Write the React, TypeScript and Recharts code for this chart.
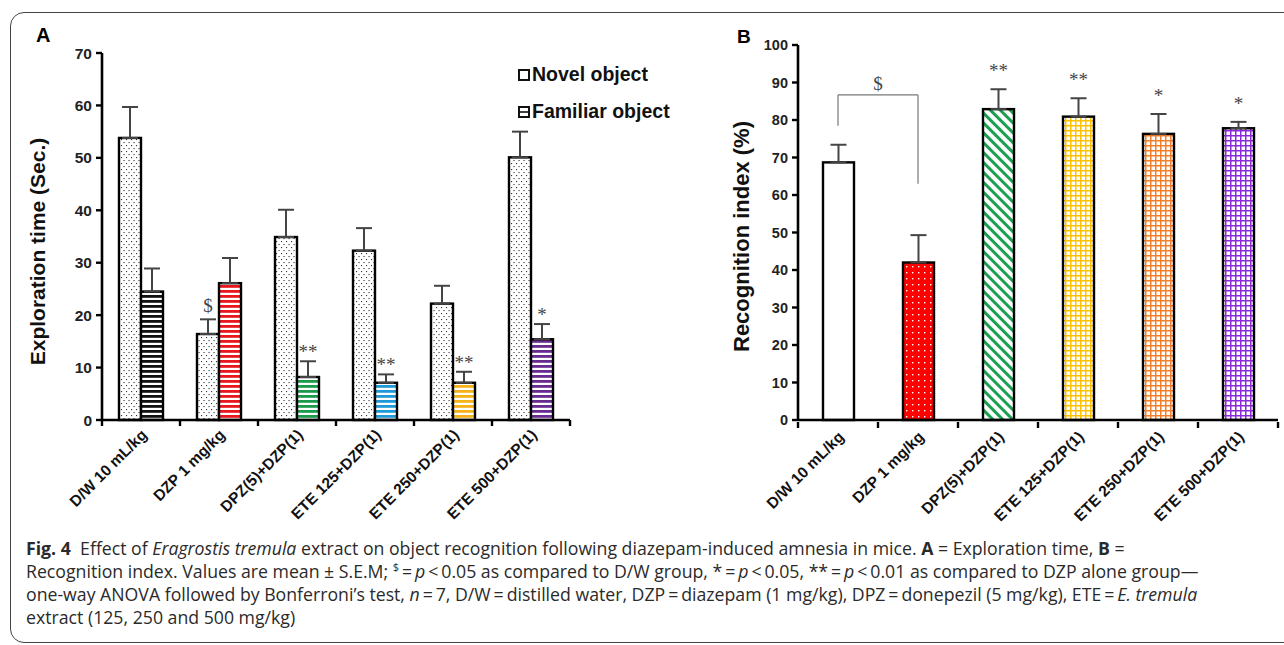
import React from "react";
import { Bar, BarChart, ErrorBar, Legend, ReferenceLine, XAxis, YAxis } from "recharts";

const groups = [
  "D/W 10 mL/kg",
  "DZP 1 mg/kg",
  "DPZ(5)+DZP(1)",
  "ETE 125+DZP(1)",
  "ETE 250+DZP(1)",
  "ETE 500+DZP(1)",
];

// panel A: exploration time (sec), mean and S.E.M
const novelMean = [53.8, 16.4, 34.9, 32.3, 22.2, 50.1];
const novelSem = [5.9, 2.8, 5.2, 4.3, 3.4, 4.9];
const familiarMean = [24.5, 26.1, 8.2, 7.1, 7.1, 15.4];
const familiarSem = [4.4, 4.8, 3.0, 1.6, 2.1, 2.9];
const novelSig = ["", "$", "", "", "", ""];
const familiarSig = ["", "", "**", "**", "**", "*"];
const ticksA = [0, 10, 20, 30, 40, 50, 60, 70];

// panel B: recognition index (%)
const riMean = [68.7, 42.0, 82.9, 80.9, 76.3, 77.8];
const riSem = [4.7, 7.3, 5.3, 4.9, 5.3, 1.7];
const riSig = ["", "", "**", "**", "*", "*"];
const ticksB = [0, 10, 20, 30, 40, 50, 60, 70, 80, 90, 100];
// D/W vs DZP bracket (y values)
const bracketStart = 78.5;
const bracketTop = 86.7;
const bracketEnd = 63;

const legendItems = ["Novel object", "Familiar object"];

const stripeColors = ["#111111", "#e8161e", "#1a9a4a", "#1f9ad6", "#f6b21a", "#6a2b90"];
const novelFills = groups.map(() => "url(#dotsA)");
const familiarFills = stripeColors.map((_, i) => `url(#stripe${i})`);
const riFills = ["#ffffff", "url(#redDots)", "url(#greenDiag)", "url(#gridYellow)", "url(#gridOrange)", "url(#gridPurple)"];

const dataA = groups.map((g, i) => ({
  group: g,
  novel: novelMean[i],
  novelErr: [0, novelSem[i]],
  familiar: familiarMean[i],
  familiarErr: [0, familiarSem[i]],
}));

const dataB = groups.map((g, i) => ({ group: g, ri: riMean[i], riErr: [0, riSem[i]] }));

const axisFont = "'Liberation Sans', Arial, sans-serif";
const serif = "'Liberation Serif', 'Times New Roman', serif";

// bar rect + significance mark placed above the error whisker
function barWithSig(means: number[], sems: number[], sig: string[], fills: string[], gap: number) {
  return (p: any) => {
    const { x, y, width, height, index } = p;
    const errTop = y - (height / means[index]) * sems[index];
    const s = sig[index];
    const lift = s === "$" ? gap - 7 : gap - 10;
    return (
      <g>
        <rect x={x} y={y} width={width} height={height} fill={fills[index]} stroke="#000" strokeWidth={2.4} />
        {s ? (
          <text x={x + width / 2} y={errTop - lift} textAnchor="middle" fontFamily={serif} fontSize={19} fill="#444">
            {s}
          </text>
        ) : null}
      </g>
    );
  };
}

// category label, tick marks at the category edges (Excel style)
function GroupTick(props: any) {
  const { x, y, payload, index, visibleTicksCount, half, fontSize } = props;
  const off = payload?.offset || half;
  const axisY = y - 10;
  return (
    <g>
      <line x1={x - off} x2={x - off} y1={axisY} y2={axisY + 6} stroke="#000" strokeWidth={2.4} />
      {index === visibleTicksCount - 1 ? (
        <line x1={x + off} x2={x + off} y1={axisY} y2={axisY + 6} stroke="#000" strokeWidth={2.4} />
      ) : null}
      <text
        x={x + 3}
        y={y + 2}
        dy="0.35em"
        transform={`rotate(-45 ${x + 3} ${y + 2})`}
        textAnchor="end"
        fontFamily={axisFont}
        fontWeight={700}
        fontSize={fontSize}
        fill="#111"
      >
        {payload.value}
      </text>
    </g>
  );
}

function Patterns() {
  return (
    <defs>
      <pattern id="dotsA" width="5" height="6" patternUnits="userSpaceOnUse">
        <rect width="5" height="6" fill="#fff" />
        <rect x="1" y="1" width="1.1" height="1.1" fill="#333" />
        <rect x="3.5" y="4" width="1.1" height="1.1" fill="#333" />
      </pattern>
      {stripeColors.map((c, i) => (
        <pattern key={c} id={`stripe${i}`} width="4" height="5" patternUnits="userSpaceOnUse">
          <rect width="4" height="5" fill="#fff" />
          <rect width="4" height="2.8" fill={c} />
        </pattern>
      ))}
      <pattern id="redDots" width="6" height="6" patternUnits="userSpaceOnUse">
        <rect width="6" height="6" fill="#ff0000" />
        <rect x="2" y="2" width="1.4" height="1.4" fill="#fff" />
      </pattern>
      <pattern id="greenDiag" width="7" height="7" patternUnits="userSpaceOnUse" patternTransform="rotate(-45)">
        <rect width="7" height="7" fill="#fff" />
        <rect width="3" height="7" fill="#1aa050" />
      </pattern>
      {[
        ["gridYellow", "#ffc000"],
        ["gridOrange", "#f47f2a"],
        ["gridPurple", "#8a2ad8"],
      ].map(([id, c]) => (
        <pattern key={id} id={id} width="5" height="5" patternUnits="userSpaceOnUse">
          <rect width="5" height="5" fill="#fff" />
          <rect width="1.5" height="5" fill={c} />
          <rect width="5" height="1.5" fill={c} />
        </pattern>
      ))}
    </defs>
  );
}

function LegendA() {
  return (
    <div style={{ fontFamily: axisFont, fontWeight: 700, fontSize: 19.5, color: "#111" }}>
      {legendItems.map((name, i) => (
        <div key={name} style={{ display: "flex", alignItems: "center", height: 37 }}>
          <svg width={12} height={12} style={{ marginRight: 2 }}>
            <rect x={1} y={1} width={10} height={10} fill="#fff" stroke="#111" strokeWidth={2} />
            {i === 1 ? <line x1={1} x2={11} y1={6} y2={6} stroke="#111" strokeWidth={1.6} /> : null}
          </svg>
          {name}
        </div>
      ))}
    </div>
  );
}

function yTitle(text: string, dx: number, dy: number, size: number) {
  return (p: any) => {
    const vb = p.viewBox;
    const cx = vb.x + dx;
    const cy = vb.y + vb.height / 2 + dy;
    return (
      <text
        x={cx}
        y={cy}
        transform={`rotate(-90 ${cx} ${cy})`}
        textAnchor="middle"
        dominantBaseline="central"
        fontFamily={axisFont}
        fontWeight={700}
        fontSize={size}
        fill="#111"
      >
        {text}
      </text>
    );
  };
}

function PanelA() {
  return (
    <div style={{ position: "absolute", left: 0, top: 0 }}>
      <BarChart width={600} height={540} data={dataA} margin={{ top: 53, right: 30, bottom: 0, left: 42 }} barGap={0} barSize={22}>
        <Patterns />
        <XAxis
          dataKey="group"
          interval={0}
          height={120}
          tickSize={6}
          tickMargin={4}
          tickLine={false}
          axisLine={{ stroke: "#000", strokeWidth: 2.6 }}
          tick={<GroupTick half={39} fontSize={15.5} />}
        />
        <YAxis
          domain={[0, 70]}
          ticks={ticksA}
          width={60}
          tickSize={6}
          tickMargin={4}
          axisLine={{ stroke: "#000", strokeWidth: 2.6 }}
          tickLine={{ stroke: "#000", strokeWidth: 2.4 }}
          tick={{ fontSize: 15.5, fontWeight: 700, fill: "#222", fontFamily: axisFont }}
          label={yTitle("Exploration time (Sec.)", -5, 15, 21)}
        />
        <Legend
          layout="vertical"
          align="center"
          verticalAlign="middle"
          content={() => <LegendA />}
          wrapperStyle={{ left: 518, top: 56, width: 200, height: 80 }}
        />
        <Bar dataKey="novel" isAnimationActive={false} shape={barWithSig(novelMean, novelSem, novelSig, novelFills, 14)}>
          <ErrorBar dataKey="novelErr" width={8} stroke="#444" strokeWidth={2} />
        </Bar>
        <Bar dataKey="familiar" isAnimationActive={false} shape={barWithSig(familiarMean, familiarSem, familiarSig, familiarFills, 13)}>
          <ErrorBar dataKey="familiarErr" width={8} stroke="#444" strokeWidth={2} />
        </Bar>
      </BarChart>
    </div>
  );
}

function PanelB() {
  return (
    <div style={{ position: "absolute", left: 700, top: 0 }}>
      <BarChart width={584} height={540} data={dataB} margin={{ top: 45, right: 6, bottom: 0, left: 38 }} barSize={31}>
        <Patterns />
        <XAxis
          dataKey="group"
          interval={0}
          height={120}
          tickSize={6}
          tickMargin={6}
          tickLine={false}
          axisLine={{ stroke: "#000", strokeWidth: 2.6 }}
          tick={<GroupTick half={40} fontSize={15.5} />}
        />
        <YAxis
          domain={[0, 100]}
          ticks={ticksB}
          width={60}
          tickSize={6}
          tickMargin={4}
          axisLine={{ stroke: "#000", strokeWidth: 2.6 }}
          tickLine={{ stroke: "#000", strokeWidth: 2.4 }}
          tick={{ fontSize: 14.5, fontWeight: 700, fill: "#222", fontFamily: axisFont }}
          label={yTitle("Recognition index (%)", 3, 4, 22)}
        />
        <ReferenceLine
          segment={[{ x: groups[0], y: bracketStart }, { x: groups[0], y: bracketTop }]}
          stroke="#777"
          strokeWidth={1.2}
        />
        <ReferenceLine
          segment={[{ x: groups[0], y: bracketTop }, { x: groups[1], y: bracketTop }]}
          stroke="#777"
          strokeWidth={1.2}
          label={{ value: "$", position: "top", offset: 5, fill: "#444", fontSize: 19, fontFamily: serif }}
        />
        <ReferenceLine
          segment={[{ x: groups[1], y: bracketTop }, { x: groups[1], y: bracketEnd }]}
          stroke="#777"
          strokeWidth={1.2}
        />
        <Bar dataKey="ri" isAnimationActive={false} shape={barWithSig(riMean, riSem, riSig, riFills, 22)}>
          <ErrorBar dataKey="riErr" width={8} stroke="#444" strokeWidth={2} />
        </Bar>
      </BarChart>
    </div>
  );
}

function Caption() {
  const line: React.CSSProperties = { height: 23, whiteSpace: "nowrap" };
  return (
    <div
      style={{
        position: "absolute",
        left: 26,
        top: 537,
        fontFamily: "'Open Sans', 'Noto Sans', sans-serif",
        fontSize: 17.7,
        lineHeight: "23px",
        color: "#2a2a2a",
      }}
    >
      <div style={line}>
        <b>Fig.&nbsp;4</b>&nbsp;&nbsp;Effect of <i>Eragrostis tremula</i> extract on object recognition following diazepam-induced amnesia in mice.{" "}
        <b>A</b> = Exploration time, <b>B</b> =
      </div>
      <div style={line}>
        Recognition index. Values are mean ± S.E.M; <sup style={{ fontSize: 11, lineHeight: 0 }}>$</sup>&thinsp;=&thinsp;<i>p</i>&thinsp;&lt;&thinsp;0.05 as compared to D/W group, *&thinsp;=&thinsp;<i>p</i>&thinsp;&lt;&thinsp;0.05, **&thinsp;=&thinsp;<i>p</i>&thinsp;&lt;&thinsp;0.01 as compared to DZP alone group—
      </div>
      <div style={line}>
        one-way ANOVA followed by Bonferroni’s test, <i>n</i>&thinsp;=&thinsp;7, D/W&thinsp;=&thinsp;distilled water, DZP&thinsp;=&thinsp;diazepam (1 mg/kg), DPZ&thinsp;=&thinsp;donepezil (5 mg/kg), ETE&thinsp;=&thinsp;<i>E. tremula</i>
      </div>
      <div style={line}>extract (125, 250 and 500 mg/kg)</div>
    </div>
  );
}

export default function App() {
  return (
    <div style={{ position: "absolute", left: 0, top: 0, width: 1284, height: 645, background: "#fff", overflow: "hidden" }}>
      <div
        style={{
          position: "absolute",
          left: 10,
          top: 12,
          width: 1320,
          height: 631,
          border: "1.3px solid #444",
          borderRadius: 14,
          boxSizing: "border-box",
        }}
      />
      <div style={{ position: "absolute", left: 36, top: 24, fontFamily: axisFont, fontWeight: 700, fontSize: 20 }}>A</div>
      <div style={{ position: "absolute", left: 737, top: 26, fontFamily: axisFont, fontWeight: 700, fontSize: 19 }}>B</div>
      <PanelA />
      <PanelB />
      <Caption />
    </div>
  );
}
